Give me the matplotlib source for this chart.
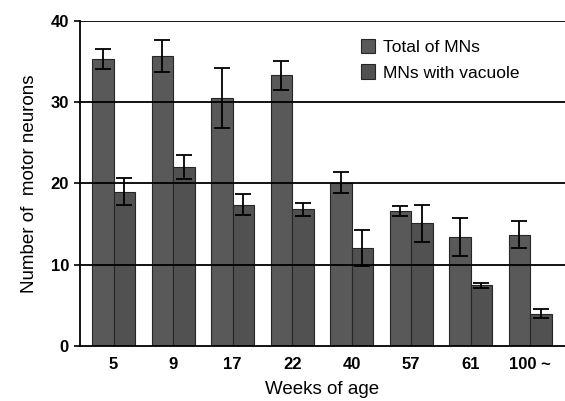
import matplotlib
matplotlib.use('Agg')
import matplotlib.pyplot as plt
import numpy as np

plt.rcParams['font.family'] = ['Liberation Sans', 'DejaVu Sans']

# weeks of age and motor neuron counts (mean +/- error)
weeks = ['5', '9', '17', '22', '40', '57', '61', '100 ~']
total_mns = [35.3, 35.7, 30.5, 33.3, 20.1, 16.6, 13.4, 13.7]
total_err = [1.2, 2.0, 3.7, 1.8, 1.3, 0.6, 2.3, 1.7]
vacuole_mns = [19.0, 22.0, 17.4, 16.8, 12.1, 15.1, 7.5, 4.0]
vacuole_err = [1.7, 1.5, 1.3, 0.8, 2.2, 2.3, 0.3, 0.6]

fig = plt.figure(figsize=(5.65, 4.01), dpi=100)
ax = fig.add_axes([0.1416, 0.137, 0.858, 0.811])

x = np.arange(len(weeks))
w = 0.362
err_style = dict(ecolor='black', elinewidth=1.3, capsize=5.5, capthick=1.3)

ax.bar(x - w/2, total_mns, w, yerr=total_err, color='#595959', edgecolor='#262626',
       linewidth=0.8, error_kw=err_style, label='Total of MNs', zorder=2)
ax.bar(x + w/2, vacuole_mns, w, yerr=vacuole_err, color='#515151', edgecolor='#262626',
       linewidth=0.8, error_kw=err_style, label='MNs with vacuole', zorder=2)

# horizontal lines drawn over the bars like the original
for yv in [10, 20, 30, 40]:
    ax.axhline(yv, color='black', linewidth=1.3, zorder=3)

ax.set_xlim(-0.564, len(weeks) - 1 + 0.58)
ax.set_ylim(0, 40)
ax.set_yticks([0, 10, 20, 30, 40])
ax.set_xticks(x)
ax.set_xticklabels(weeks)

for s in ['top', 'right']:
    ax.spines[s].set_visible(False)
ax.spines['left'].set_linewidth(1.3)
ax.spines['bottom'].set_linewidth(1.3)
ax.spines['bottom'].set_zorder(4)

ax.tick_params(axis='x', length=0, pad=8, labelsize=12)
ax.tick_params(axis='y', length=4, width=1.2, pad=4, labelsize=12)
for lab in ax.get_xticklabels() + ax.get_yticklabels():
    lab.set_fontweight('bold')

ax.set_xlabel('Weeks of age', fontsize=13.5, labelpad=6)
ax.set_ylabel('Number of  motor neurons', fontsize=13.5, labelpad=9)

ax.legend(loc='upper left', bbox_to_anchor=(0.58, 0.945), frameon=False,
          fontsize=12.5, handlelength=0.8, handleheight=0.9, handletextpad=0.45,
          labelspacing=0.55, borderpad=0, borderaxespad=0)

fig.savefig('out.png', dpi=100)
